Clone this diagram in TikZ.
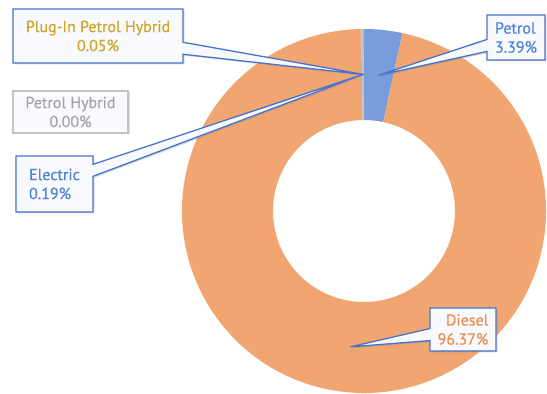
\documentclass[tikz,border=0pt]{standalone}
\usepackage{fontspec}
\setmainfont{PT Sans}
\newfontfamily\labelfont[FakeBold=0.5]{PT Sans}
\usetikzlibrary{calc,shapes.callouts,shadows}
\definecolor{dieselorange}{RGB}{241,165,112}
\definecolor{petrolblue}{RGB}{121,157,220}
\definecolor{electricblue}{RGB}{170,195,235}
\definecolor{plugingold}{RGB}{205,165,40}
\definecolor{edgeblue}{RGB}{70,115,205}
\definecolor{labelblue}{RGB}{80,130,215}
\definecolor{labelorange}{RGB}{236,140,78}
\definecolor{labelgray}{RGB}{165,165,165}
\definecolor{edgegray}{RGB}{195,195,195}
\definecolor{boxfill}{RGB}{248,250,253}
\tikzset{
  labelbox/.style={draw=edgeblue, line width=1.3pt, fill=boxfill, inner sep=4pt,
    font=\labelfont\fontsize{16}{19}\selectfont,
    drop shadow={opacity=0.25, shadow xshift=1.5pt, shadow yshift=-1.5pt}},
  pointerbox/.style={labelbox, rectangle callout, callout pointer width=12pt}
}

\begin{document}
\begin{tikzpicture}[x=1pt,y=1pt]
  \fill[white] (0,0) rectangle (547,394);
  \useasboundingbox (0,0) rectangle (547,394);
  \coordinate (c) at (364,183);
  % ring: petrol, diesel, electric, plug-in (clockwise from the top)
  \foreach \a/\b/\col in {90/77.796/petrolblue, 77.796/-269.136/dieselorange,
      -269.136/-269.82/electricblue, -269.82/-270/plugingold}
    \fill[\col] ($(c)+(\a:182)$) arc[start angle=\a, end angle=\b, radius=182]
      -- ($(c)+(\b:91)$) arc[start angle=\b, end angle=\a, radius=91] -- cycle;
  % tips in the middle of each slice
  \coordinate (tippetrol) at ($(c)+(83.9:136.5)$);
  \coordinate (tipdiesel) at ($(c)+(-95.67:136.5)$);
  \coordinate (tipelectric) at ($(c)+(90.52:136.5)$);
  \coordinate (tipplugin) at ($(c)+(90.09:136.5)$);
  % labels
  \node[pointerbox, text=plugingold, align=center, minimum width=170pt, minimum height=54pt,
    callout absolute pointer={(tipplugin)}] (plugin) at (98,358) {Plug-In Petrol Hybrid\\0.05\%};
  \node[labelbox, draw=edgegray, text=labelgray, align=center, minimum width=115pt,
    minimum height=42pt] (petrolhyb) at (70.5,282) {Petrol Hybrid\\0.00\%};
  \node[pointerbox, text=labelblue, align=left, minimum width=77pt, minimum height=56pt,
    callout absolute pointer={(tipelectric)}] (electric) at (54.5,210) {Electric\\0.19\%};
  \node[pointerbox, text=labelorange, align=right, minimum width=66pt, minimum height=43pt,
    callout absolute pointer={(tipdiesel)}] (diesel) at (463,64.5) {Diesel\\96.37\%};
  \node[pointerbox, text=labelblue, align=left, minimum width=58pt, minimum height=45pt,
    callout absolute pointer={(tippetrol)}] (petrol) at (516,356.5) {Petrol\\3.39\%};
\end{tikzpicture}
\end{document}
